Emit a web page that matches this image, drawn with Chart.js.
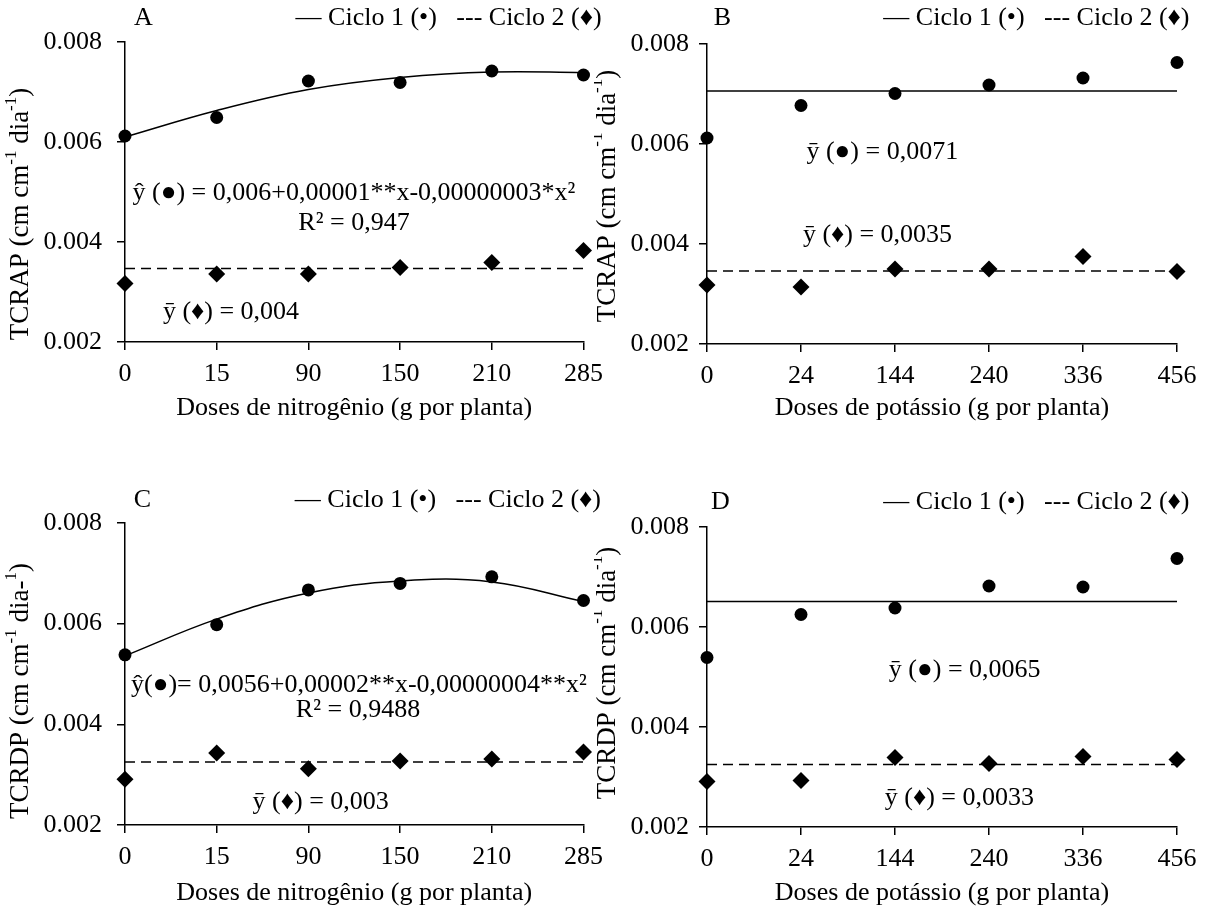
<!DOCTYPE html>
<html>
<head>
<meta charset="utf-8">
<script src="https://cdn.jsdelivr.net/npm/chart.js@4.4.1/dist/chart.umd.min.js"></script>
<style>
  body { margin: 0; background: #fff; }
  .wrap { position: relative; width: 1208px; height: 906px; overflow: hidden; }
  canvas { position: absolute; }
</style>
</head>
<body>
<div class="wrap">
  <canvas id="chartA" width="612" height="453" style="left:0;top:0"></canvas>
  <canvas id="chartB" width="614" height="453" style="left:594px;top:0"></canvas>
  <canvas id="chartC" width="612" height="453" style="left:0;top:453px"></canvas>
  <canvas id="chartD" width="614" height="453" style="left:594px;top:453px"></canvas>
</div>
<script>
// categorias (doses)
const nitrogenDoses = ['0', '15', '90', '150', '210', '285'];
const potassiumDoses = ['0', '24', '144', '240', '336', '456'];
const yTickValues = [0.002, 0.004, 0.006, 0.008];

// A - TCRAP x nitrogenio
const aCiclo1 = [0.00612, 0.00649, 0.00722, 0.00719, 0.00742, 0.00734];
const aCiclo2 = [0.00317, 0.00336, 0.00336, 0.00349, 0.00359, 0.00383];
const aAjuste1 = [0.00610, 0.00663, 0.00705, 0.00729, 0.00740, 0.00739];
const aMedia2 = [0.00347, 0.00347, 0.00347, 0.00347, 0.00347, 0.00347];

// B - TCRAP x potassio
const bCiclo1 = [0.00612, 0.00677, 0.00701, 0.00718, 0.00732, 0.00763];
const bCiclo2 = [0.00318, 0.00314, 0.00350, 0.00350, 0.00375, 0.00345];
const bMedia1 = [0.00706, 0.00706, 0.00706, 0.00706, 0.00706, 0.00706];
const bMedia2 = [0.00346, 0.00346, 0.00346, 0.00346, 0.00346, 0.00346];

// C - TCRDP x nitrogenio
const cCiclo1 = [0.00538, 0.00598, 0.00667, 0.00680, 0.00693, 0.00646];
const cCiclo2 = [0.00291, 0.00343, 0.00312, 0.00327, 0.00331, 0.00345];
const cAjuste1 = [0.00536, 0.00609, 0.00661, 0.00685, 0.00683, 0.00644];
const cMedia2 = [0.00325, 0.00325, 0.00325, 0.00325, 0.00325, 0.00325];

// D - TCRDP x potassio
const dCiclo1 = [0.00539, 0.00625, 0.00638, 0.00682, 0.00680, 0.00737];
const dCiclo2 = [0.00291, 0.00293, 0.00339, 0.00327, 0.00341, 0.00335];
const dMedia1 = [0.00651, 0.00651, 0.00651, 0.00651, 0.00651, 0.00651];
const dMedia2 = [0.00325, 0.00325, 0.00325, 0.00325, 0.00325, 0.00325];

const FONT_FAMILY = '"Liberation Serif", "Times New Roman", serif';
const FONT_SIZE = 26;
const Y_TITLE_SIZE = 27;
const legendText = '\u2014 Ciclo 1 (\u2022)   --- Ciclo 2 (\u2666)';

Chart.defaults.font.family = FONT_FAMILY;
Chart.defaults.font.size = FONT_SIZE;
Chart.defaults.color = '#000';

// textos livres: letra, legenda, titulos e equacoes
const panelText = {
  id: 'panelText',
  afterDraw(chart, args, opts) {
    const ctx = chart.ctx;
    const area = chart.chartArea;
    const f = FONT_SIZE + 'px ' + FONT_FAMILY;
    ctx.save();
    ctx.fillStyle = '#000';
    ctx.textBaseline = 'middle';
    ctx.font = f;

    ctx.textAlign = 'center';
    ctx.fillText(opts.letter[0], opts.letter[1], opts.letter[2]);

    ctx.textAlign = 'right';
    ctx.fillText(legendText, opts.legend[0], opts.legend[1]);

    ctx.textAlign = 'center';
    ctx.fillText(opts.xTitle, (area.left + area.right) / 2, opts.xTitleY);

    opts.notes.forEach(n => ctx.fillText(n[0], n[1], n[2]));

    // titulo do eixo y com expoentes
    const yf = Y_TITLE_SIZE + 'px ' + FONT_FAMILY;
    const supFont = Math.round(Y_TITLE_SIZE * 0.64) + 'px ' + FONT_FAMILY;
    let total = 0;
    opts.yTitle.forEach(p => {
      ctx.font = p.sup ? supFont : yf;
      total += ctx.measureText(p.t).width;
    });
    ctx.translate(opts.yTitlePos[0], opts.yTitlePos[1]);
    ctx.rotate(-Math.PI / 2);
    ctx.textAlign = 'left';
    let x = -total / 2;
    opts.yTitle.forEach(p => {
      ctx.font = p.sup ? supFont : yf;
      ctx.fillText(p.t, x, p.sup ? -Y_TITLE_SIZE * 0.36 : 0);
      x += ctx.measureText(p.t).width;
    });
    ctx.restore();
  }
};

function makePanel(id, p) {
  const datasets = [
    { label: 'Ciclo 1', data: p.c1, showLine: false, pointStyle: 'circle', pointRadius: 6.5,
      backgroundColor: '#000', borderColor: '#000', borderWidth: 0, clip: false },
    { label: 'Ciclo 2', data: p.c2, showLine: false, pointStyle: 'rectRot', pointRadius: 8.5,
      backgroundColor: '#000', borderColor: '#000', borderWidth: 0, clip: false },
    { label: 'Ciclo 1 ajuste', data: p.line1, borderColor: '#000', borderWidth: 1.5,
      pointRadius: 0, tension: p.curve ? 0.4 : 0, fill: false },
    { label: 'Ciclo 2 media', data: p.line2, borderColor: '#000', borderWidth: 1.5,
      borderDash: [10, 6], pointRadius: 0, fill: false }
  ];

  return new Chart(document.getElementById(id), {
    type: 'line',
    data: { labels: p.labels, datasets: datasets },
    plugins: [panelText],
    options: {
      responsive: false,
      animation: false,
      events: [],
      layout: { padding: { top: p.top, right: p.right, bottom: 0, left: 0 } },
      plugins: {
        legend: { display: false },
        tooltip: { enabled: false },
        panelText: p.text
      },
      scales: {
        x: {
          type: 'category',
          offset: false,
          grid: { drawOnChartArea: false, drawTicks: true, tickLength: 8, color: '#000', lineWidth: 1.5 },
          border: { color: '#000', width: 1.5 },
          ticks: { color: '#000', padding: 9, maxRotation: 0, autoSkip: false },
          afterFit: s => { s.height = p.xHeight; }
        },
        y: {
          min: 0.002,
          max: 0.008,
          grid: { drawOnChartArea: false, drawTicks: true, tickLength: 8, color: '#000', lineWidth: 1.5 },
          border: { color: '#000', width: 1.5 },
          ticks: { color: '#000', padding: p.yPad, callback: v => v.toFixed(3) },
          afterBuildTicks: s => { s.ticks = yTickValues.map(v => ({ value: v })); },
          afterFit: s => { s.width = p.yWidth; }
        }
      }
    }
  });
}

const titleTCRAP = [{ t: 'TCRAP (cm cm' }, { t: '-1', sup: true }, { t: ' dia' }, { t: '-1', sup: true }, { t: ')' }];
const titleTCRDP_C = [{ t: 'TCRDP (cm cm' }, { t: '-1', sup: true }, { t: ' dia-' }, { t: '1', sup: true }, { t: ')' }];
const titleTCRDP_D = [{ t: 'TCRDP (cm cm' }, { t: '-1', sup: true }, { t: ' dia' }, { t: '-1', sup: true }, { t: ')' }];

makePanel('chartA', {
  labels: nitrogenDoses, c1: aCiclo1, c2: aCiclo2, line1: aAjuste1, line2: aMedia2, curve: true,
  top: 42, right: 20, yWidth: 125, xHeight: 111, yPad: 15,
  text: {
    letter: ['A', 143.5, 18], legend: [601.7, 18],
    xTitle: 'Doses de nitrogênio (g por planta)', xTitleY: 408,
    yTitle: titleTCRAP, yTitlePos: [21, 214],
    notes: [
      ['\u0177 (\u25CF) = 0,006+0,00001**x-0,00000003*x\u00B2', 354, 193],
      ['R\u00B2 = 0,947', 354, 223],
      ['\u0233 (\u2666) = 0,004', 231, 312]
    ]
  }
});

makePanel('chartB', {
  labels: potassiumDoses, c1: bCiclo1, c2: bCiclo2, line1: bMedia1, line2: bMedia2, curve: false,
  top: 44, right: 31, yWidth: 113, xHeight: 109, yPad: 10,
  text: {
    letter: ['B', 128.4, 18], legend: [595.5, 18],
    xTitle: 'Doses de potássio (g por planta)', xTitleY: 408,
    yTitle: titleTCRAP, yTitlePos: [13.5, 196],
    notes: [
      ['\u0233 (\u25CF) = 0,0071', 288.3, 152],
      ['\u0233 (\u2666) = 0,0035', 283.5, 235]
    ]
  }
});

makePanel('chartC', {
  labels: nitrogenDoses, c1: cCiclo1, c2: cCiclo2, line1: cAjuste1, line2: cMedia2, curve: true,
  top: 70, right: 20, yWidth: 125, xHeight: 81, yPad: 15,
  text: {
    letter: ['C', 142.5, 47], legend: [601, 47],
    xTitle: 'Doses de nitrogênio (g por planta)', xTitleY: 440,
    yTitle: titleTCRDP_C, yTitlePos: [21, 238],
    notes: [
      ['\u0177(\u25CF)= 0,0056+0,00002**x-0,00000004**x\u00B2', 359, 232],
      ['R\u00B2 = 0,9488', 358, 257],
      ['\u0233 (\u2666) = 0,003', 320.7, 349]
    ]
  }
});

makePanel('chartD', {
  labels: potassiumDoses, c1: dCiclo1, c2: dCiclo2, line1: dMedia1, line2: dMedia2, curve: false,
  top: 74, right: 31, yWidth: 113, xHeight: 79, yPad: 10,
  text: {
    letter: ['D', 126.5, 49], legend: [595.5, 49],
    xTitle: 'Doses de potássio (g por planta)', xTitleY: 440,
    yTitle: titleTCRDP_D, yTitlePos: [13.5, 220],
    notes: [
      ['\u0233 (\u25CF) = 0,0065', 370.7, 217],
      ['\u0233 (\u2666) = 0,0033', 365.4, 345]
    ]
  }
});
</script>
</body>
</html>
